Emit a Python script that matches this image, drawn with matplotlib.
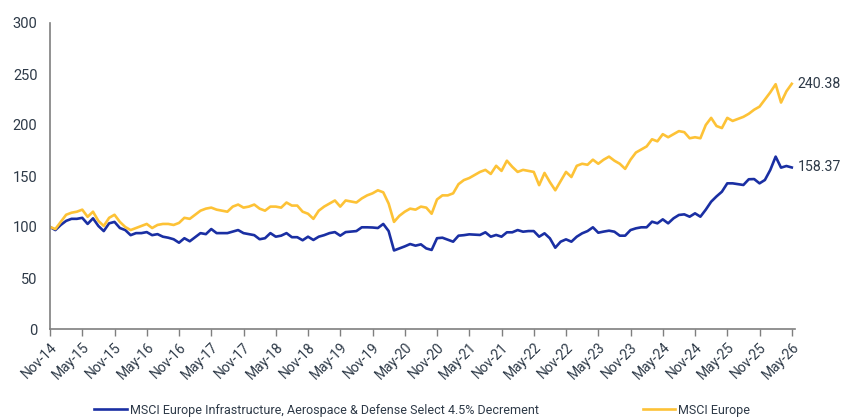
import numpy as np
import matplotlib.pyplot as plt

# monthly index values, Nov-14 .. May-26 (139 points)
msci_europe = [
    100, 98, 105, 112, 114, 115, 117, 110, 115, 106,
    101, 109, 112, 105, 100, 97, 99, 101, 103, 99,
    102, 103, 103, 102, 104, 109, 108, 112, 116, 118,
    119, 117, 116, 115, 120, 122, 119, 120, 122, 118,
    116, 120, 120, 119, 124, 121, 121, 115, 113, 108,
    116, 120, 123, 126, 120, 126, 125, 124, 128, 131,
    133, 136, 134, 123, 105, 111, 115, 118, 117, 120,
    119, 113, 127, 131, 131, 133, 142, 146, 148, 151,
    154, 156, 152, 160, 155, 165, 159, 154, 156, 155,
    154, 141, 153, 144, 136, 145, 154, 149, 160, 162,
    161, 166, 162, 166, 169, 165, 162, 157, 166, 173,
    176, 179, 186, 184, 191, 188, 191, 194, 193, 187,
    188, 187, 200, 207, 199, 197, 207, 204, 206, 208,
    211, 215, 218, 225, 232, 240, 222, 233, 240.38,
]

msci_iad = [
    100, 97, 102, 106, 108, 108, 109, 103, 108.5, 101,
    96, 103.6, 105, 99, 97, 92, 94, 94, 95, 92,
    93, 90.5, 89.5, 88, 84.6, 89, 86, 90, 94, 93,
    98, 94, 94, 94, 95.5, 97, 94, 93, 92, 88,
    89, 94, 90.5, 91.5, 94, 90, 90, 87, 90.5, 87.3,
    90.5, 92, 94, 95, 91.5, 95, 95.5, 96, 99.7, 99.7,
    99.5, 99, 103, 96, 77, 79, 81, 83.3, 81.7, 83,
    79, 77.5, 89, 89.5, 87.5, 85.6, 91.5, 92, 92.8, 92.5,
    92.2, 94.8, 90.5, 92.2, 90.5, 94.8, 94.8, 97, 95.4, 96,
    96, 90.5, 93.8, 88.9, 79.7, 85.6, 87.9, 85.6, 90.5, 93.8,
    96, 99.7, 94.4, 95.5, 96.4, 95.4, 91.5, 91.5, 97, 98.7,
    99.7, 99.7, 105.2, 103.6, 107.5, 103.6, 108.5, 111.8, 112.4, 110.1,
    113.4, 110.1, 117, 124.8, 130, 134.6, 142.8, 142.8, 142, 141.2,
    146.8, 147, 142.8, 146.1, 155.9, 169, 158.2, 159.8, 158.37,
]

tick_labels = [
    "Nov-14", "May-15", "Nov-15", "May-16", "Nov-16", "May-17", "Nov-17", "May-18",
    "Nov-18", "May-19", "Nov-19", "May-20", "Nov-20", "May-21", "Nov-21", "May-22",
    "Nov-22", "May-23", "Nov-23", "May-24", "Nov-24", "May-25", "Nov-25", "May-26",
]

blue = "#1a2fa3"
yellow = "#fdc236"
text_col = "#2e3a48"

plt.rcParams['font.family'] = ['Roboto', 'DejaVu Sans']

fig = plt.figure(figsize=(8.45, 4.19), dpi=100)
ax = fig.add_axes([50 / 845, 90 / 419, 745 / 845, 306 / 419])

x = np.arange(len(msci_europe))
ax.plot(x, msci_iad, color=blue, lw=1.9,
        label="MSCI Europe Infrastructure, Aerospace & Defense Select 4.5% Decrement")
ax.plot(x, msci_europe, color=yellow, lw=1.9, label="MSCI Europe")

ax.set_xlim(0, 138.6)
ax.set_ylim(0, 300)
ax.set_yticks(range(0, 301, 50))
ax.set_xticks(np.arange(0, 139, 6))
ax.set_xticklabels(tick_labels, rotation=45, ha="right", rotation_mode="anchor")

for s in ["top", "right"]:
    ax.spines[s].set_visible(False)
for s in ["left", "bottom"]:
    ax.spines[s].set_color("#7f7f7f")
    ax.spines[s].set_linewidth(1.2)

ax.tick_params(axis="y", length=0, pad=9, labelsize=10.5, labelcolor=text_col)
ax.tick_params(axis="x", length=5, width=1, color="#7f7f7f", pad=3,
               labelsize=10, labelcolor=text_col)

# end-of-line value labels
ax.annotate(f"{msci_europe[-1]:.2f}", (x[-1], msci_europe[-1]), xytext=(4, 0),
            textcoords="offset points", va="center", fontsize=10.2,
            color=text_col, annotation_clip=False)
ax.annotate(f"{msci_iad[-1]:.2f}", (x[-1], msci_iad[-1]), xytext=(4, 0),
            textcoords="offset points", va="center", fontsize=10.2,
            color=text_col, annotation_clip=False)

fig.legend(loc="center", bbox_to_anchor=(0.5, 1 - 410 / 419), ncol=2, frameon=False,
           fontsize=9, handlelength=2.6, handletextpad=0.25, columnspacing=8.3,
           labelcolor=text_col)

fig.savefig("out.png", dpi=100)
